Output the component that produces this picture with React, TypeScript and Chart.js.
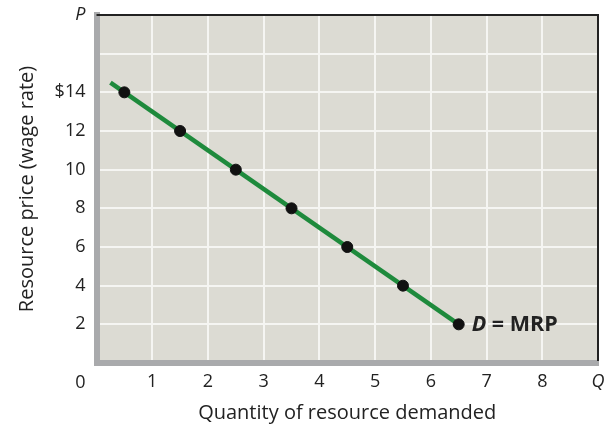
import React, { useEffect, useRef } from "react";
import { Chart, registerables } from "chart.js";

Chart.register(...registerables);

const quantities = [0.5, 1.5, 2.5, 3.5, 4.5, 5.5, 6.5];
const prices = [14, 12, 10, 8, 6, 4, 2];
const lineX = [0.25, 6.5];
const lineY = [14.5, 2];
const xTickLabels: Record<number, string> = { 1: "1", 2: "2", 3: "3", 4: "4", 5: "5", 6: "6", 7: "7", 8: "8", 9: "Q" };
const yTickLabels: Record<number, string> = { 2: "2", 4: "4", 6: "6", 8: "8", 10: "10", 12: "12", 14: "$14", 18: "P" };
const curveLabel = "D = MRP";
const xTitle = "Quantity of resource demanded";
const yTitle = "Resource price (wage rate)";
const originLabel = "0";

const FONT = "'Open Sans', Lato, sans-serif";
const FS = 18;
const TS = 20;

export default function App() {
  const ref = useRef<HTMLCanvasElement | null>(null);
  useEffect(() => {
    document.body.style.margin = "0";
    const canvas = ref.current!;
    const bgPlugin = {
      id: "bgPlugin",
      beforeDraw(chart: any) {
        const { ctx, chartArea: a } = chart;
        ctx.save();
        ctx.fillStyle = "#dcdbd3";
        ctx.fillRect(a.left, a.top, a.right - a.left, a.bottom - a.top);
        ctx.restore();
      },
      afterDraw(chart: any) {
        const { ctx, chartArea: a, scales } = chart;
        ctx.save();
        ctx.strokeStyle = "#222";
        ctx.lineWidth = 2;
        ctx.beginPath();
        ctx.moveTo(a.left, a.top);
        ctx.lineTo(a.right, a.top);
        ctx.lineTo(a.right, a.bottom - 2);
        ctx.stroke();
        // origin label
        ctx.fillStyle = "#222";
        ctx.font = `${FS}px ${FONT}`;
        ctx.textAlign = "center";
        ctx.textBaseline = "middle";
        ctx.fillText(originLabel, a.left - 16, a.bottom + 20);
        // curve label
        const i = quantities.length - 1;
        const px = scales.x.getPixelForValue(quantities[i]);
        const py = scales.y.getPixelForValue(prices[i]);
        ctx.textAlign = "left";
        const parts = curveLabel.split(" ");
        ctx.font = `italic bold 21.5px ${FONT}`;
        let x = px + 13;
        ctx.fillText(parts[0], x, py + 1);
        x += ctx.measureText(parts[0] + " ").width;
        ctx.font = `bold 21.5px ${FONT}`;
        ctx.fillText(parts.slice(1).join(" "), x, py + 1);
        ctx.restore();
      },
    };
    const chart = new Chart(canvas, {
      type: "scatter",
      data: {
        datasets: [
          {
            type: "line",
            data: lineX.map((x, i) => ({ x, y: lineY[i] })),
            borderColor: "#1e8a3c",
            borderWidth: 4.5,
            pointRadius: 0,
            order: 2,
          } as any,
          {
            data: quantities.map((x, i) => ({ x, y: prices[i] })),
            backgroundColor: "#111",
            borderColor: "#111",
            pointRadius: 5.5,
            order: 1,
          },
        ],
      },
      plugins: [bgPlugin],
      options: {
        responsive: false,
        animation: false,
        layout: { padding: { top: 15, right: 10, left: 0, bottom: 0 } },
        plugins: { legend: { display: false }, tooltip: { enabled: false } },
        scales: {
          x: {
            type: "linear",
            min: 0,
            max: 9,
            afterFit: (s: any) => { s.height = 63; s.paddingLeft = 0; s.paddingRight = 0; },
            afterBuildTicks: (s: any) => { s.ticks = [0, 1, 2, 3, 4, 5, 6, 7, 8, 9].map((v) => ({ value: v })); },
            ticks: {
              stepSize: 1,
              padding: 8,
              color: "#222",
              maxRotation: 0,
              autoSkip: false,
              font: (c: any) => ({ family: FONT, size: FS, style: c.tick && c.tick.value === 9 ? "italic" : "normal" }),
              callback: (v: any) => xTickLabels[v] ?? "",
            },
            grid: { color: "#f5f5f2", lineWidth: 2, drawTicks: false },
            border: { color: "#a9aaac", width: 6 },
            title: { display: true, text: xTitle, color: "#222", font: { family: FONT, size: TS }, padding: { top: 0, bottom: 1 } },
          },
          y: {
            type: "linear",
            min: 0,
            max: 18,
            afterFit: (s: any) => { s.width = 96.5; s.paddingTop = 0; s.paddingBottom = 0; },
            afterBuildTicks: (s: any) => { s.ticks = [0, 2, 4, 6, 8, 10, 12, 14, 16, 18].map((v) => ({ value: v })); },
            ticks: {
              stepSize: 2,
              padding: 11,
              color: "#222",
              autoSkip: false,
              font: (c: any) => ({ family: FONT, size: FS, style: c.tick && c.tick.value === 18 ? "italic" : "normal" }),
              callback: (v: any) => yTickLabels[v] ?? "",
            },
            grid: { color: "#f5f5f2", lineWidth: 2, drawTicks: false },
            border: { color: "#a9aaac", width: 6 },
            title: { display: true, text: yTitle, color: "#222", font: { family: FONT, size: TS }, padding: { top: 15, bottom: 0 } },
          },
        },
      },
    });
    return () => chart.destroy();
  }, []);
  return <canvas ref={ref} width={608} height={426} style={{ display: "block" }} />;
}
